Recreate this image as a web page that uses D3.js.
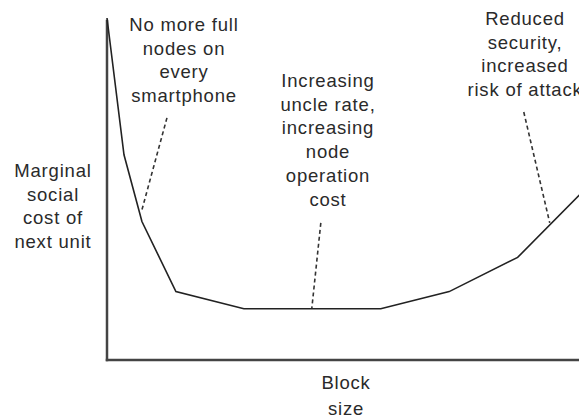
<!DOCTYPE html>
<html lang="en">
<head>
  <meta charset="UTF-8">
  <title>Marginal social cost of block size</title>
  <script src="https://d3js.org/d3.v7.min.js"></script>
  <style>
    body { margin: 0; background: #fff; }
    .axis { stroke: #444; stroke-width: 2.5px; }
    .curve { fill: none; stroke: #222; stroke-width: 1.6px; }
    .pointer { stroke: #333; stroke-width: 1.6px; stroke-dasharray: 4 3; }
    .label { font: 18.5px "Liberation Sans", Arial, sans-serif; fill: #2a2a2a; letter-spacing: 0.8px; }
  </style>
</head>
<body>
  <svg width="579" height="417"></svg>

  <script>
    const width = 579;
    const height = 417;

    // curve: block size (x) vs marginal social cost (y), arbitrary units
    const blockSize = [0, 3.6, 7.4, 14.6, 29, 58, 72.5, 87, 101];
    const cost = [100, 60, 40.5, 20, 15, 15, 20, 30, 49.5];

    // dashed pointers from each note to the curve
    const pointerFrom = [[12.7, 70.8], [45.3, 40.1], [88.3, 72.5]];
    const pointerTo = [[7.4, 43.9], [43.4, 15.2], [93.8, 40.1]];

    const notes = [
      { lines: ["No more full", "nodes on", "every", "smartphone"], x: 184, y: 31 },
      { lines: ["Increasing", "uncle rate,", "increasing", "node", "operation", "cost"], x: 328, y: 87 },
      { lines: ["Reduced", "security,", "increased", "risk of attack"], x: 525, y: 25 }
    ];
    const yTitle = ["Marginal", "social", "cost of", "next unit"];
    const xTitle = ["Block", "size"];

    const x = d3.scaleLinear().domain([0, 100]).range([107, 579]);
    const y = d3.scaleLinear().domain([0, 100]).range([360, 18]);

    const svg = d3.select("svg")
        .attr("width", width)
        .attr("height", height);

    // axes are just two plain lines
    svg.append("line").attr("class", "axis")
        .attr("x1", x(0)).attr("x2", x(0))
        .attr("y1", y(99.5)).attr("y2", y(0) + 1.25);
    svg.append("line").attr("class", "axis")
        .attr("x1", x(0) - 1.25).attr("x2", width)
        .attr("y1", y(0)).attr("y2", y(0));

    const line = d3.line()
        .x((d, i) => x(blockSize[i]))
        .y(d => y(d));

    svg.append("path")
        .attr("class", "curve")
        .attr("d", line(cost));

    svg.append("g")
      .selectAll("line")
      .data(pointerFrom)
      .enter().append("line")
        .attr("class", "pointer")
        .attr("x1", d => x(d[0]))
        .attr("y1", d => y(d[1]))
        .attr("x2", (d, i) => x(pointerTo[i][0]))
        .attr("y2", (d, i) => y(pointerTo[i][1]));

    function block(lines, cx, top, step) {
      const t = svg.append("text")
          .attr("class", "label")
          .attr("text-anchor", "middle");
      t.selectAll("tspan")
        .data(lines)
        .enter().append("tspan")
          .attr("x", cx)
          .attr("y", (d, i) => top + i * step)
          .text(d => d);
    }

    notes.forEach(n => block(n.lines, n.x, n.y, 23.7));
    block(yTitle, 53, 177, 23.5);
    block(xTitle, 346, 389, 25.5);
  </script>
</body>
</html>
